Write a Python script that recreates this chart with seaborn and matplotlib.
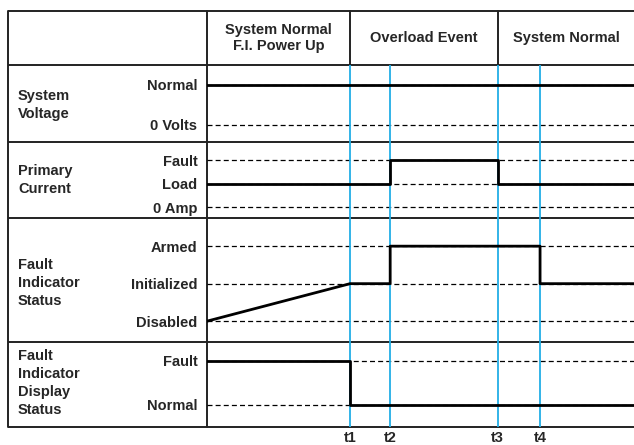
import numpy as np
import pandas as pd
import matplotlib
matplotlib.use("Agg")
import matplotlib.pyplot as plt
import seaborn as sns

# --- data -------------------------------------------------------------
# time runs 0..10 across the timing area
event_names = ["t1", "t2", "t3", "t4"]
event_times = [3.35, 4.29, 6.81, 7.80]
t_end = 10.0

phase_names = ["System Normal\nF.I. Power Up", "Overload Event", "System Normal"]
phase_edges = [0.0, 3.35, 6.81, t_end]

signal_names = ["System\nVoltage", "Primary\nCurrent",
                "Fault\nIndicator\nStatus", "Fault\nIndicator\nDisplay\nStatus"]

voltage_levels = ["0 Volts", "Normal"]
voltage_t = [0.0, t_end]
voltage_state = ["Normal", "Normal"]

current_levels = ["0 Amp", "Load", "Fault"]
current_t = [0.0, 4.29, 4.29, 6.81, 6.81, t_end]
current_state = ["Load", "Load", "Fault", "Fault", "Load", "Load"]

status_levels = ["Disabled", "Initialized", "Armed"]
status_t = [0.0, 3.35, 4.29, 4.29, 7.80, 7.80, t_end]
status_state = ["Disabled", "Initialized", "Initialized", "Armed",
                "Armed", "Initialized", "Initialized"]

display_levels = ["Normal", "Fault"]
display_t = [0.0, 3.35, 3.35, t_end]
display_state = ["Fault", "Fault", "Normal", "Normal"]

signals = [
    (voltage_levels, voltage_t, voltage_state),
    (current_levels, current_t, current_state),
    (status_levels, status_t, status_state),
    (display_levels, display_t, display_state),
]

# --- layout (pixels) --------------------------------------------------
W, H = 634, 445
x_left, x_col = 8, 207
y_top, y_head = 11, 65
row_bounds = [(65, 142), (142, 218), (218, 342), (342, 427)]
level_px = [[125, 85], [207, 184, 160], [322, 282, 247], [405, 361]]
label_y = [105, 180, 283, 383]
blue = "#22aee6"
fs = 10.5

sns.set_style("white")
plt.rcParams["font.family"] = ["Liberation Sans", "DejaVu Sans"]
plt.rcParams["font.weight"] = "bold"

fig = plt.figure(figsize=(W / 100, H / 100), dpi=100)

# background axes in pixel coords for the table frame
bg = fig.add_axes([0, 0, 1, 1])
bg.set_xlim(0, W)
bg.set_ylim(H, 0)
bg.axis("off")

def t2x(t):
    return x_col + t / t_end * (W - x_col)

y_bottom = row_bounds[-1][1]
for y in [y_top, y_head] + [b for _, b in row_bounds[:-1]] + [y_bottom]:
    bg.plot([x_left, W], [y, y], color="#222222", lw=1.4, solid_capstyle="butt")
bg.plot([x_left, x_left], [y_top, y_bottom], color="#222222", lw=1.4)
bg.plot([x_col, x_col], [y_top, y_bottom], color="#222222", lw=1.4)
for t in phase_edges[1:-1]:
    bg.plot([t2x(t), t2x(t)], [y_top, y_head], color="#222222", lw=1.4)

for i, name in enumerate(phase_names):
    xc = (t2x(phase_edges[i]) + t2x(phase_edges[i + 1])) / 2
    bg.text(xc, (y_top + y_head) / 2, name, ha="center", va="center",
            fontsize=fs, fontweight="bold", linespacing=1.2)

for name, y in zip(signal_names, label_y):
    bg.text(18, y, name, ha="left", va="center", fontsize=fs,
            fontweight="bold", linespacing=1.35)

# one axes per signal row
for k, ((levels, ts, states), (top, bot)) in enumerate(zip(signals, row_bounds)):
    ax = fig.add_axes([x_col / W, 1 - bot / H, 1 - x_col / W, (bot - top) / H])
    ax.patch.set_alpha(0)
    vals = np.arange(len(levels))
    b, a = np.polyfit(vals, level_px[k], 1)
    ax.set_ylim((bot - a) / b, (top - a) / b)
    ax.set_xlim(0, t_end)

    for v in vals:
        ax.axhline(v, color="black", lw=0.9, ls=(0, (4, 2.5)), zorder=1)
    for t in event_times:
        ax.axvline(t, color=blue, lw=1.3, zorder=2)

    df = pd.DataFrame({"t": ts, "v": [levels.index(s) for s in states]})
    sns.lineplot(data=df, x="t", y="v", ax=ax, sort=False, estimator=None,
                 color="black", lw=2.0, zorder=3)

    for s in ax.spines.values():
        s.set_visible(False)
    ax.set_yticks(vals)
    ax.set_yticklabels(levels, fontsize=fs, fontweight="bold")
    ax.tick_params(axis="y", length=0, pad=7)
    ax.set_ylabel("")
    ax.set_xlabel("")
    if k == len(signals) - 1:
        ax.set_xticks(event_times)
        ax.set_xticklabels(event_names, fontsize=fs, fontweight="bold")
        ax.tick_params(axis="x", length=0, pad=3)
    else:
        ax.set_xticks([])

fig.savefig("out.png", dpi=100)
